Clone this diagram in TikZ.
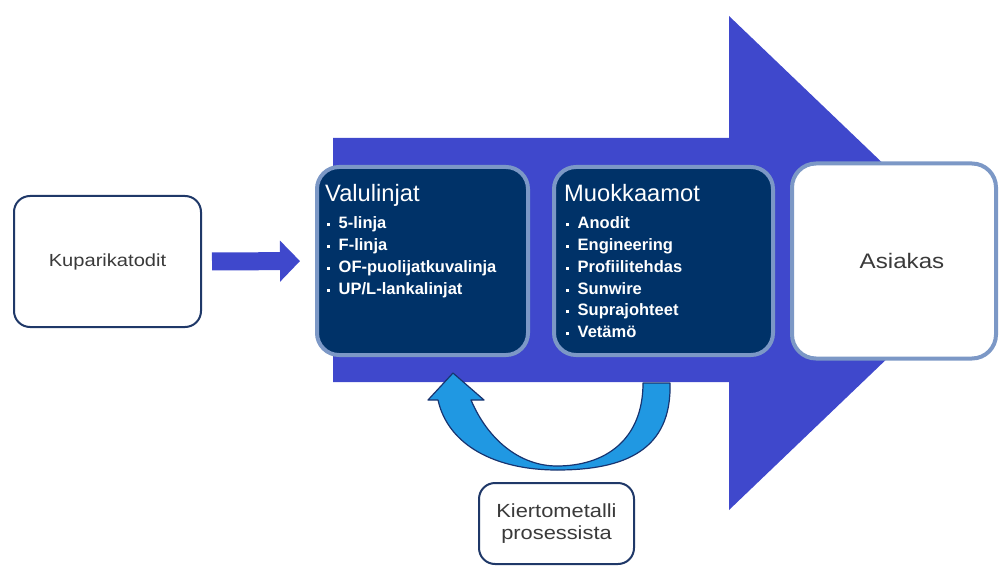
\documentclass[tikz,border=0pt]{standalone}
\usepackage{fontspec}
\setmainfont{Liberation Sans}
\newfontfamily\widefont[FakeStretch=1.15]{Liberation Sans}
\usetikzlibrary{positioning,arrows.meta}
\definecolor{arrowblue}{RGB}{63,72,204}
\definecolor{boxnavy}{RGB}{0,50,104}
\definecolor{boxrim}{RGB}{124,152,198}
\definecolor{edgenavy}{RGB}{31,56,104}
\definecolor{loopblue}{RGB}{32,152,226}
\definecolor{loopline}{RGB}{24,52,112}
\definecolor{txtgray}{RGB}{58,58,58}
\newcommand{\sqb}{\hspace{2pt}\rule[0.28ex]{3pt}{3pt}\hspace{8.5pt}}

\begin{document}
\begin{tikzpicture}[x=1pt,y=-1pt,
    bigarrow/.style={fill=arrowblue},
    plainbox/.style={draw=edgenavy,line width=2pt,rounded corners=16pt,fill=white,
      text=txtgray,font=\widefont\fontsize{17.5}{22}\selectfont,align=center},
    darkbox/.style={draw=boxrim,line width=4pt,rounded corners=22pt,fill=boxnavy,minimum height=188pt},
    whitebox/.style={draw=boxrim,line width=4pt,rounded corners=24pt,fill=white,
      text=txtgray,font=\widefont\fontsize{21}{25}\selectfont},
    listtext/.style={anchor=north west,inner sep=0pt,text=white,align=left,
      font=\bfseries\fontsize{16.5}{21.8}\selectfont},
    feed/.style={draw=arrowblue,line width=18pt,-{Triangle[length=20pt,width=40pt]},
      shorten <=10pt,shorten >=15pt},
    returnarrow/.style={fill=loopblue,draw=loopline,line width=1.2pt,line join=round}
  ]
  \useasboundingbox (0,0) rectangle (1000,569);

  % main flow
  \fill[bigarrow] (333,138) -- (729,138) -- (729,16) -- (987,263) -- (729,510)
    -- (729,382) -- (333,382) -- cycle;

  \node[plainbox,minimum width=187pt,minimum height=131pt] (kup) at (107.5,261.5) {Kuparikatodit};
  \node[darkbox,minimum width=211pt] (valu) at (422.5,261) {};
  \node[darkbox,minimum width=219pt] (muok) [right=22pt of valu] {};
  \node[whitebox,minimum width=204pt,minimum height=195pt] (asiakas) [right=15pt of muok] {\hspace*{16pt}Asiakas};
  \node[plainbox,minimum width=155pt,minimum height=81pt,
    font=\widefont\fontsize{19}{22}\selectfont] (kierto) at (556.5,523.5) {Kiertometalli\\prosessista};

  \node[listtext] (valutxt) at ([xshift=10pt,yshift=-19pt]valu.north west)
    {{\mdseries\fontsize{23.7}{27}\selectfont Valulinjat}\\[5.5pt]
     \sqb 5-linja\\
     \sqb F-linja\\
     \sqb OF-puolijatkuvalinja\\
     \sqb UP/L-lankalinjat};
  \node[listtext] (muoktxt) at ([xshift=12pt,yshift=-19pt]muok.north west)
    {{\mdseries\fontsize{23.7}{27}\selectfont Muokkaamot}\\[5.5pt]
     \sqb Anodit\\
     \sqb Engineering\\
     \sqb Profiilitehdas\\
     \sqb Sunwire\\
     \sqb Suprajohteet\\
     \sqb Vetämö};

  \draw[feed] (kup.east) -- (valu.west);

  % recycled metal back to casting
  \draw[returnarrow] (670,383) .. controls (672,450) and (625,470) .. (557,470)
    .. controls (495,470) and (448,445) .. (438,400)
    -- (428,400) -- (453,373) -- (484,400) -- (471,400)
    .. controls (488,440) and (520,466) .. (557,466)
    .. controls (605,466) and (643,440) .. (643,383) -- cycle;
\end{tikzpicture}
\end{document}
